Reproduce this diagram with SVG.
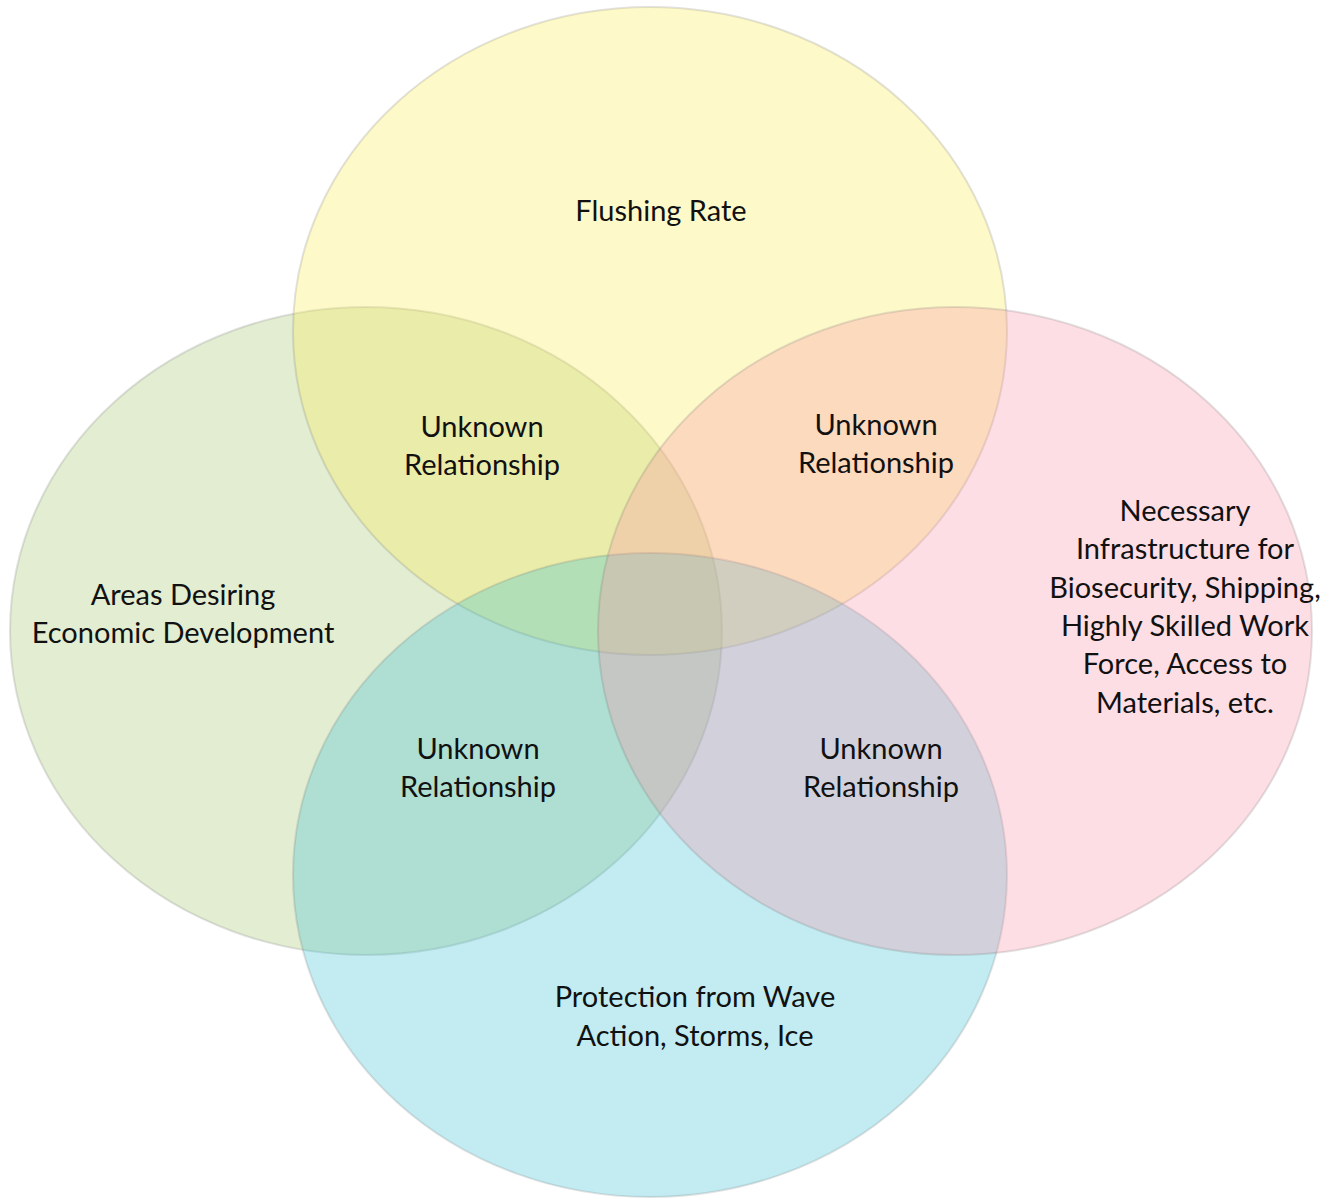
<svg xmlns="http://www.w3.org/2000/svg" width="1325" height="1198" viewBox="0 0 1325 1198">
<style>
.c{fill-opacity:0.3;stroke:#707070;stroke-opacity:0.2;stroke-width:2}
.t{font-family:Lato,"Open Sans","Liberation Sans",sans-serif;font-size:29px;fill:#111;text-anchor:middle}
</style>
<rect width="1325" height="1198" fill="#ffffff"/>
<g id="economic">
<ellipse class="c" cx="366" cy="631" rx="356" ry="324" fill="#9EC369"/>
</g>
<g id="flushing">
<ellipse class="c" cx="650" cy="331" rx="357" ry="324" fill="#FCEB4B"/>
</g>
<g id="protection">
<ellipse class="c" cx="650" cy="875" rx="357" ry="322" fill="#34C0D4"/>
</g>
<g id="infrastructure">
<ellipse class="c" cx="955" cy="631" rx="357" ry="324" fill="#F891A5"/>
</g>
<g id="flushing-label"><text class="t" x="661" y="221">Flushing Rate</text></g>
<g id="economic-label"><text class="t" x="183" y="605">Areas Desiring</text><text class="t" x="183" y="643">Economic Development</text></g>
<g id="infrastructure-label">
<text class="t" x="1185" y="521">Necessary</text>
<text class="t" x="1185" y="559">Infrastructure for</text>
<text class="t" x="1185" y="598">Biosecurity, Shipping,</text>
<text class="t" x="1185" y="636">Highly Skilled Work</text>
<text class="t" x="1185" y="674">Force, Access to</text>
<text class="t" x="1185" y="713">Materials, etc.</text>
</g>
<g id="protection-label"><text class="t" x="695" y="1007">Protection from Wave</text><text class="t" x="695" y="1046">Action, Storms, Ice</text></g>
<g id="overlap-top-left"><text class="t" x="482" y="437">Unknown</text><text class="t" x="482" y="475">Relationship</text></g>
<g id="overlap-top-right"><text class="t" x="876" y="435">Unknown</text><text class="t" x="876" y="473">Relationship</text></g>
<g id="overlap-bottom-left"><text class="t" x="478" y="759">Unknown</text><text class="t" x="478" y="797">Relationship</text></g>
<g id="overlap-bottom-right"><text class="t" x="881" y="759">Unknown</text><text class="t" x="881" y="797">Relationship</text></g>
<g id="connectors"></g>
</svg>
